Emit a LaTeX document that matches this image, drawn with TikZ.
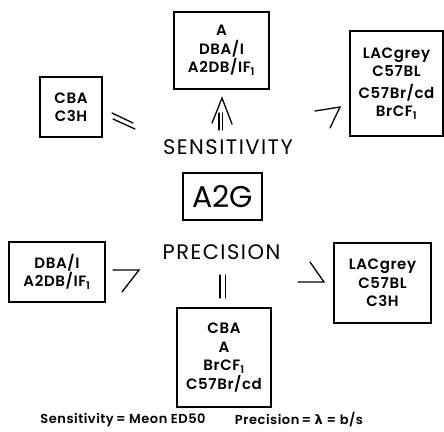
\documentclass[tikz,border=0pt]{standalone}
\usepackage{fontspec}
\setmainfont{Poppins}
\newfontfamily\boxfont{Poppins}[UprightFont=* SemiBold, LetterSpace=4]
\newfontfamily\headfont{Poppins}[LetterSpace=7]
\newfontfamily\greekfont{DejaVu Sans}[UprightFont=* Bold]
\usepackage{tikz}
\usetikzlibrary{positioning,calc}

\begin{document}
\begin{tikzpicture}[x=1pt, y=-1pt,
    strain/.style={draw, line width=1.6pt, align=center, inner sep=0pt,
      font=\fontsize{15}{18.5}\boxfont},
    heading/.style={font=\fontsize{21}{24}\headfont, inner sep=0pt},
    relmark/.style={line width=1.3pt, line cap=round, line join=miter}]
  \useasboundingbox (0,0) rectangle (444,431);

  % Sensitivity ranking (top)
  \node[strain, minimum width=95pt, minimum height=77pt] (topA) at (221.5,50.5)
    {A\\DBA/I\\A2DB/IF\textsubscript{1}};
  \node[strain, minimum width=62pt, minimum height=60pt] (topCBA) at (71,107)
    {CBA\\C3H};
  \node[strain, minimum width=93pt, minimum height=105pt] (topLAC) at (396.5,83.5)
    {LACgrey\\C57BL\\[3pt]C57Br/cd\\BrCF\textsubscript{1}};
  \node[heading] (sens) at (228,147.5) {SENSITIVITY};

  % the strain in the middle
  \node[draw, line width=1.6pt, minimum width=79pt, minimum height=47pt, inner sep=0pt,
    font=\fontsize{30}{32}\selectfont] (centre) at (222.5,196.5) {A2G};

  % Precision ranking (bottom)
  \node[heading] (prec) at (221.5,252) {PRECISION};
  \node[strain, minimum width=96pt, minimum height=60pt] (botDBA) at (57,272)
    {DBA/I\\A2DB/IF\textsubscript{1}};
  \node[strain, minimum width=97pt, minimum height=80pt] (botLAC) at (382.5,283)
    {LACgrey\\C57BL\\C3H};
  \node[strain, minimum width=94pt, minimum height=99pt] (botCBA) at (224,357.5)
    {CBA\\A\\BrCF\textsubscript{1}\\C57Br/cd};

  % order marks
  \coordinate (mkCBA) at (112,113);
  \coordinate (mkA) at (222,98);
  \coordinate (mkLAC) at (315,111);
  \coordinate (mkDBA) at (113,270);
  \coordinate (mkbot) at (220,275);
  \coordinate (mkLACb) at (310,262);
  \draw[relmark] (mkCBA) -- ++(21,10) ($(mkCBA)+(1,6)$) -- ++(22,10);
  \draw[relmark] ($(mkA)+(-10,25)$) -- (mkA) -- ++(10,26);
  \draw[relmark] ($(mkA)+(-3,15)$) -- ++(0,17) ($(mkA)+(0.5,15)$) -- ++(0,17);
  \draw[relmark] (mkLAC) -- ++(25,-4) -- ++(-10,21);
  \draw[relmark] (mkDBA) -- ++(26,0) -- ++(-17,22);
  \draw[relmark] (mkbot) -- ++(0,23) ($(mkbot)+(5.5,0)$) -- ++(0,23);
  \draw[relmark] (mkLACb) -- ++(14,20) -- ++(-26,0);

  % definitions
  \node[font=\fontsize{13}{14}\boxfont, inner sep=0pt] (defsens) at (123,420)
    {Sensitivity\,= Meon ED50};
  \node[font=\fontsize{13}{14}\boxfont, inner sep=0pt] (defprec) at (299,420)
    {Precision\,= {\greekfont λ} = b/s};
\end{tikzpicture}
\end{document}
